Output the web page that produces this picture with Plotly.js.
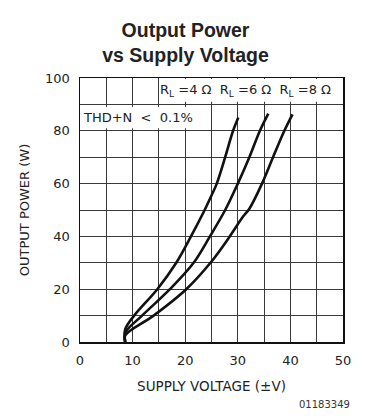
<!DOCTYPE html>
<html>
<head>
<meta charset="utf-8">
<script src="https://cdn.plot.ly/plotly-3.0.1.min.js"></script>
<style>html,body{margin:0;padding:0;background:#fff;}#chart{width:371px;height:420px;}</style>
</head>
<body>
<div id="chart"></div>
<script>
// Supply voltage (±V) and output power (W)
const v4 = [8.6, 8.6, 10.3, 14.7, 18.3, 21.1, 23.7, 25.0, 26.0, 27.6, 29.1, 30.1];
const p4 = [0, 4.8, 10, 20, 30, 40, 50, 55.5, 60, 70, 80, 85];
const v6 = [8.6, 8.6, 11.8, 17.1, 21.6, 24.7, 27.6, 30.0, 32.2, 34.2, 35.8];
const p6 = [0, 3.5, 10, 20, 30, 40, 50, 60, 70, 80, 86.5];
const v8 = [8.6, 8.6, 14.0, 20.2, 25.0, 28.3, 31.0, 32.2, 34.6, 36.7, 38.85, 40.4];
const p8 = [0, 2.5, 10, 20, 30.5, 39.5, 47.5, 50.5, 60, 70, 80, 86.2];

const xTickVals = [0, 5, 10, 15, 20, 25, 30, 35, 40, 45, 50];
const xTickText = ['0', '', '10', '', '20', '', '30', '', '40', '', '50'];
const yTickVals = [0, 10, 20, 30, 40, 50, 60, 70, 80, 90, 100];
const yTickText = ['0', '', '20', '', '40', '', '60', '', '80', '', '100'];

const legendText = 'R<sub>L</sub> =4 Ω  R<sub>L</sub> =6 Ω  R<sub>L</sub> =8 Ω';
const thdText = 'THD+N  <  0.1%';

const lineStyle = {color: '#111', width: 2.6, shape: 'spline', smoothing: 1};
const traces = [
  {x: v4, y: p4, mode: 'lines', line: lineStyle, name: '4 Ω', hoverinfo: 'skip'},
  {x: v6, y: p6, mode: 'lines', line: lineStyle, name: '6 Ω', hoverinfo: 'skip'},
  {x: v8, y: p8, mode: 'lines', line: lineStyle, name: '8 Ω', hoverinfo: 'skip'}
];

const tickFont = {family: 'DejaVu Sans', size: 13, color: '#222'};
const layout = {
  width: 371, height: 420,
  margin: {l: 80, r: 28, t: 78, b: 78},
  paper_bgcolor: '#fff', plot_bgcolor: '#fff',
  showlegend: false,
  title: {
    text: '<b>Output Power<br>vs Supply Voltage</b>',
    font: {family: 'Liberation Sans', size: 19.5, color: '#222'},
    x: 0.5, xref: 'container', xanchor: 'center',
    y: 1 - 37 / 420, yref: 'container', yanchor: 'top'
  },
  xaxis: {
    range: [0, 50], tickvals: xTickVals, ticktext: xTickText,
    showgrid: true, gridcolor: '#3a3a3a', gridwidth: 1,
    showline: true, linecolor: '#111', linewidth: 1.5, mirror: true,
    zeroline: false, ticks: '', ticklabelstandoff: 6,
    tickfont: tickFont, fixedrange: true,
    title: {text: 'SUPPLY VOLTAGE (±V)', font: {family: 'DejaVu Sans', size: 13.5, color: '#222'}, standoff: 14}
  },
  yaxis: {
    range: [0, 100], tickvals: yTickVals, ticktext: yTickText,
    showgrid: true, gridcolor: '#3a3a3a', gridwidth: 1,
    showline: true, linecolor: '#111', linewidth: 1.5, mirror: true,
    zeroline: false, ticks: '', ticklabelstandoff: 6,
    tickfont: tickFont, fixedrange: true,
    title: {text: 'OUTPUT POWER (W)', font: {family: 'DejaVu Sans', size: 13, color: '#222'}, standoff: 12}
  },
  shapes: [
    {type: 'rect', xref: 'x', yref: 'y', x0: 15.2, x1: 49.8, y0: 91, y1: 99.6, fillcolor: '#fff', line: {width: 0}, layer: 'between'},
    {type: 'rect', xref: 'x', yref: 'y', x0: 0.2, x1: 22.8, y0: 81, y1: 89, fillcolor: '#fff', line: {width: 0}, layer: 'between'}
  ],
  annotations: [
    {text: legendText, xref: 'x', yref: 'y', x: 31.4, y: 95.2, showarrow: false,
     font: {family: 'DejaVu Sans', size: 13, color: '#222'}},
    {text: thdText, xref: 'x', yref: 'y', x: 11.0, y: 85.2, showarrow: false,
     font: {family: 'DejaVu Sans', size: 13, color: '#222'}},
    {text: '01183349', xref: 'paper', yref: 'paper', x: 1.034, y: -0.265, xanchor: 'right', showarrow: false,
     font: {family: 'DejaVu Sans', size: 10, color: '#333'}}
  ]
};

Plotly.newPlot('chart', traces, layout, {staticPlot: true, displayModeBar: false});
</script>
</body>
</html>
